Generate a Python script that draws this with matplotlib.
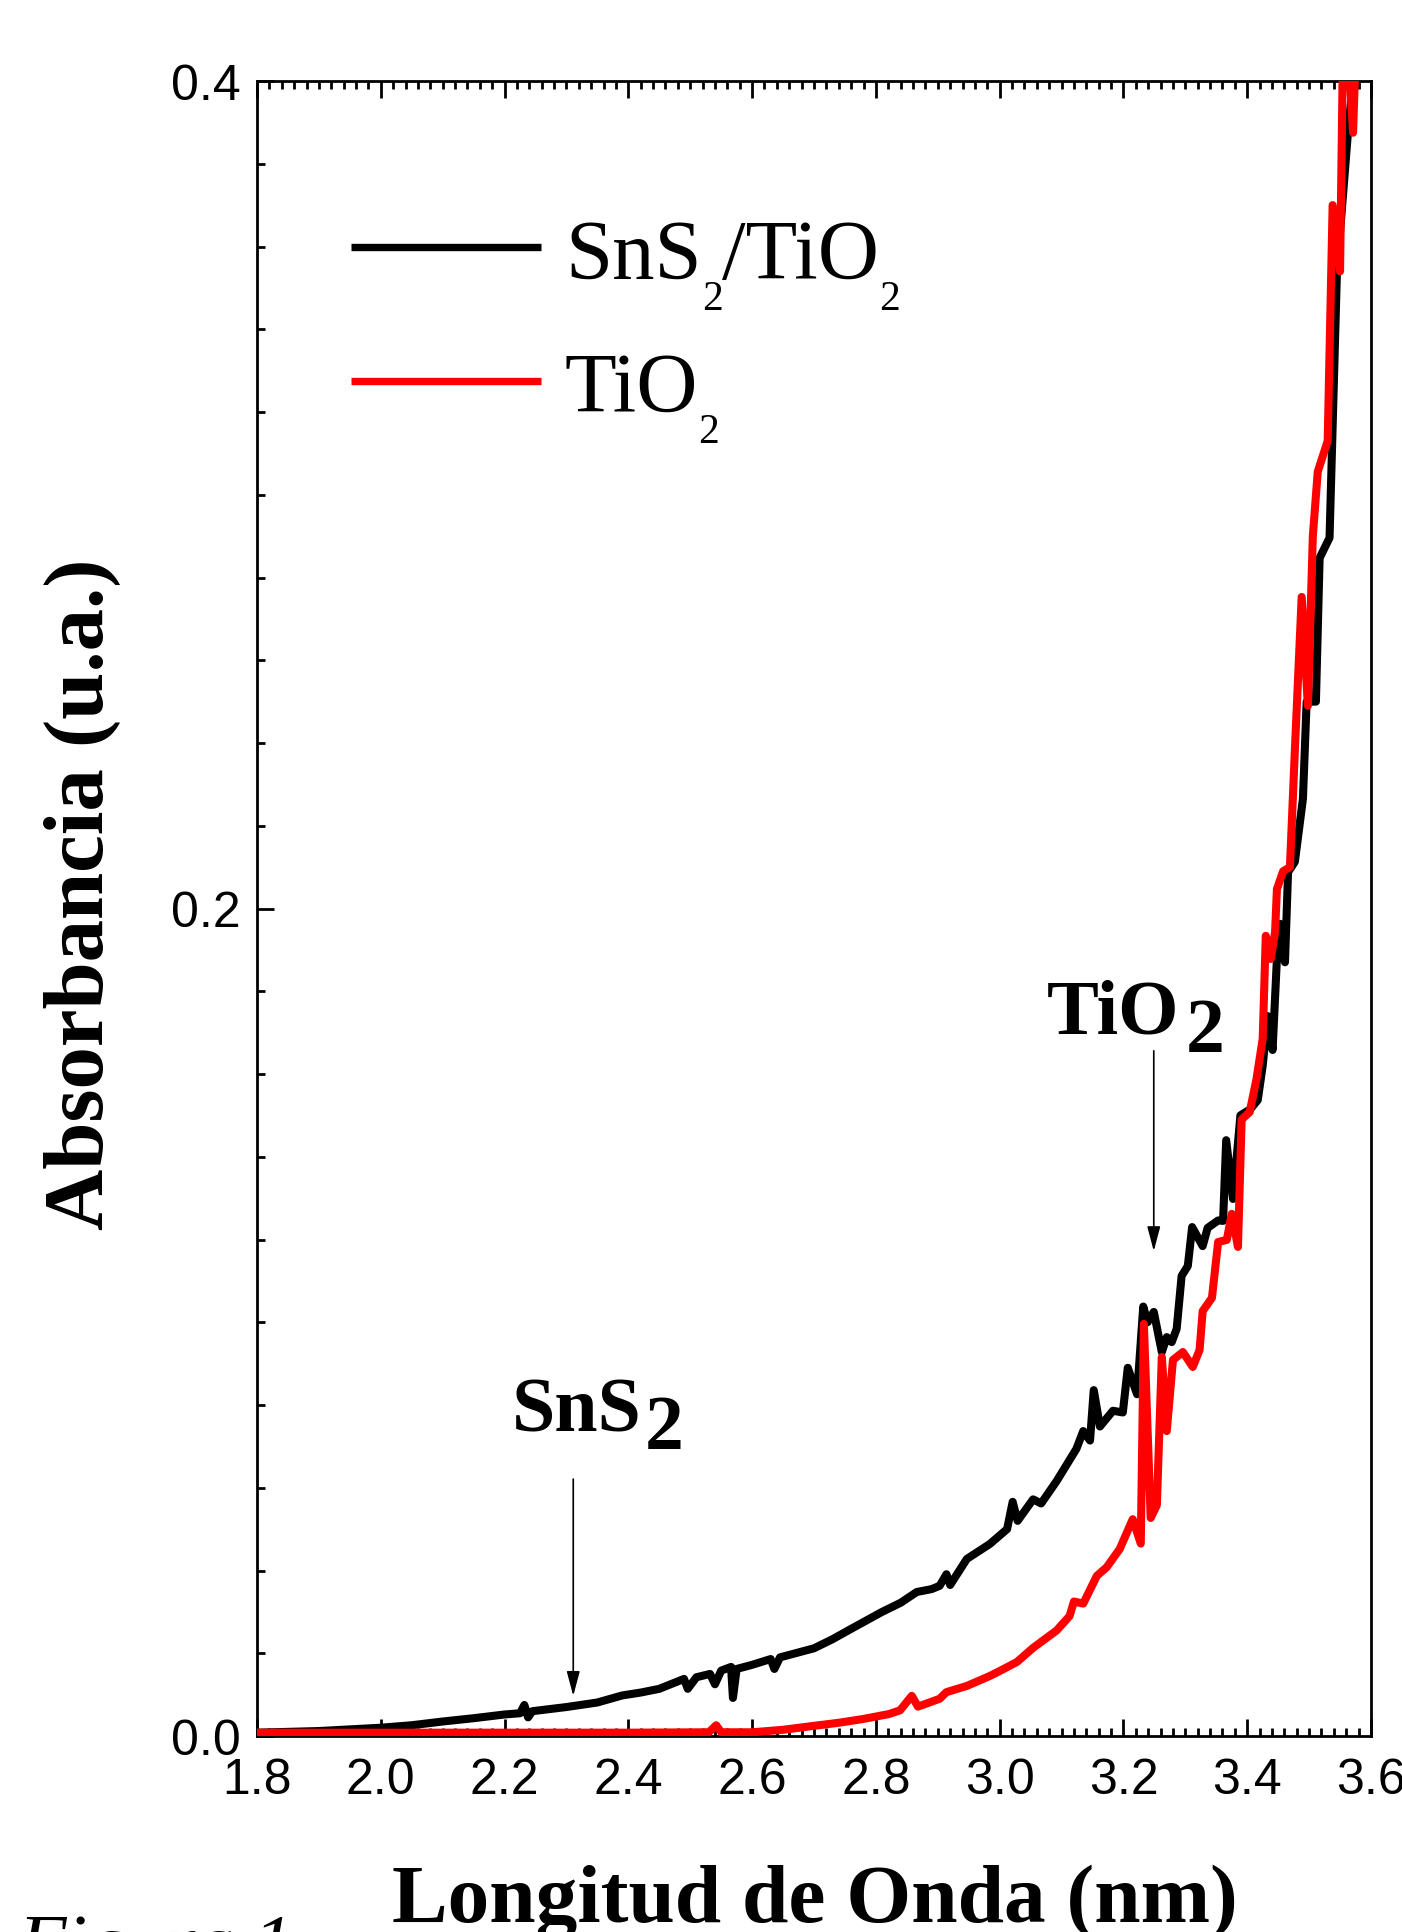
import matplotlib
matplotlib.use("Agg")
import matplotlib.pyplot as plt
from matplotlib.ticker import MultipleLocator, FormatStrFormatter
from matplotlib.lines import Line2D

# ---------------- data ----------------
sns2_tio2_x = [1.80, 1.90, 2.00, 2.05, 2.10, 2.15, 2.20, 2.225, 2.232, 2.238, 2.245,
               2.30, 2.35, 2.39, 2.42, 2.45, 2.49, 2.496, 2.51, 2.532, 2.54, 2.55,
               2.566, 2.569, 2.575, 2.60, 2.630, 2.636, 2.645, 2.70, 2.73, 2.76, 2.81,
               2.84, 2.866, 2.89, 2.903, 2.914, 2.92, 2.947, 2.984, 3.012, 3.021, 3.029, 3.054,
               3.067, 3.092, 3.124, 3.135, 3.146, 3.152, 3.162, 3.183, 3.199, 3.207,
               3.222, 3.232, 3.239, 3.249, 3.262, 3.270, 3.278, 3.286, 3.294, 3.304,
               3.311, 3.328, 3.336, 3.353, 3.361, 3.366, 3.377, 3.389, 3.405, 3.417,
               3.425, 3.433, 3.441, 3.448, 3.453, 3.461, 3.466, 3.477, 3.490, 3.496,
               3.511, 3.517, 3.533, 3.545, 3.563, 3.571, 3.578]
sns2_tio2_y = [0.0008, 0.0012, 0.0020, 0.0026, 0.0035, 0.0043, 0.0052, 0.0055, 0.0075, 0.0045, 0.0060,
               0.0070, 0.0081, 0.0098, 0.0105, 0.0114, 0.0138, 0.0114, 0.0142, 0.0150, 0.0125, 0.0158,
               0.0167, 0.0092, 0.0162, 0.0172, 0.0186, 0.0162, 0.0190, 0.0212, 0.0234, 0.0259, 0.0300,
               0.0322, 0.0348, 0.0355, 0.0363, 0.0391, 0.0365, 0.0428, 0.0464, 0.0500, 0.0566, 0.0520, 0.0572,
               0.0562, 0.0616, 0.0694, 0.0737, 0.0714, 0.0836, 0.0748, 0.0786, 0.0782, 0.0890,
               0.0826, 0.1038, 0.1000, 0.1025, 0.0928, 0.0964, 0.0952, 0.0984, 0.1112, 0.1136,
               0.1230, 0.1184, 0.1228, 0.1246, 0.1245, 0.1440, 0.1298, 0.1500, 0.1515, 0.1537,
               0.1620, 0.1740, 0.1658, 0.1880, 0.1963, 0.1870, 0.2088, 0.2113, 0.2265, 0.2500,
               0.2500, 0.2847, 0.2896, 0.3540, 0.3880, 0.4000, 0.4200]

tio2_x = [1.80, 2.00, 2.20, 2.40, 2.53, 2.542, 2.55, 2.60, 2.65, 2.697, 2.74, 2.779,
          2.821, 2.839, 2.858, 2.868, 2.903, 2.914, 2.947, 2.984, 3.000, 3.028, 3.054,
          3.092, 3.113, 3.120, 3.135, 3.157, 3.173, 3.194, 3.215, 3.228, 3.233, 3.244,
          3.254, 3.262, 3.270, 3.280, 3.296, 3.312, 3.323, 3.328, 3.343, 3.353, 3.367,
          3.375, 3.385, 3.391, 3.404, 3.415, 3.425, 3.430, 3.438, 3.445, 3.448, 3.458,
          3.469, 3.477, 3.488, 3.498, 3.506, 3.514, 3.530, 3.538, 3.550, 3.554, 3.562,
          3.571, 3.576]
tio2_y = [0.0008, 0.0008, 0.0008, 0.0008, 0.0009, 0.0026, 0.0009, 0.0009, 0.0015, 0.0024, 0.0032, 0.0041,
          0.0053, 0.0062, 0.0097, 0.0071, 0.0090, 0.0106, 0.0121, 0.0145, 0.0157, 0.0179, 0.0213,
          0.0255, 0.0290, 0.0325, 0.0320, 0.0387, 0.0408, 0.0452, 0.0524, 0.0465, 0.0996, 0.0527,
          0.0558, 0.0916, 0.0737, 0.0909, 0.0928, 0.0892, 0.0933, 0.1027, 0.1059, 0.1194, 0.1199,
          0.1262, 0.1182, 0.1490, 0.1508, 0.1588, 0.1685, 0.1934, 0.1878, 0.1943, 0.2047, 0.2090,
          0.2100, 0.2383, 0.2753, 0.2490, 0.2900, 0.3056, 0.3130, 0.3700, 0.3540, 0.4000, 0.4100,
          0.3875, 0.4100]

series_names = ["SnS2/TiO2", "TiO2"]
series_colors = ["#000000", "#ff0000"]
x_ticks = [1.8, 2.0, 2.2, 2.4, 2.6, 2.8, 3.0, 3.2, 3.4, 3.6]
y_ticks = [0.0, 0.2, 0.4]

# annotation targets (data coordinates)
tio2_arrow = (3.249, 0.1656, 0.1172)   # x, y_start, y_tip
sns2_arrow = (2.311, 0.0621, 0.0097)

# ---------------- figure ----------------
W, H = 1402, 1933
fig = plt.figure(figsize=(W / 100, H / 100), dpi=100)
ax = fig.add_axes([257 / W, (H - 1737) / H, (1371 - 257) / W, (1737 - 82) / H])

serif = "Liberation Serif"
sans = "Liberation Sans"

ax.plot(sns2_tio2_x, sns2_tio2_y, color=series_colors[0], lw=5.8,
        solid_joinstyle="round", solid_capstyle="round", zorder=3)
ax.plot(tio2_x, tio2_y, color=series_colors[1], lw=5.8,
        solid_joinstyle="round", solid_capstyle="round", zorder=4)

ax.set_xlim(1.8, 3.6)
ax.set_ylim(0.0, 0.4)
ax.set_xticks(x_ticks)
ax.set_yticks(y_ticks)
ax.xaxis.set_minor_locator(MultipleLocator(0.02))
ax.yaxis.set_minor_locator(MultipleLocator(0.02))
ax.xaxis.set_major_formatter(FormatStrFormatter("%.1f"))
ax.yaxis.set_major_formatter(FormatStrFormatter("%.1f"))

for s in ax.spines.values():
    s.set_linewidth(2.0)

ax.tick_params(which="both", direction="in", top=True, right=False,
               bottom=True, left=True, width=2.0)
ax.tick_params(which="major", length=12)
ax.tick_params(which="minor", length=5.5)
ax.tick_params(axis="x", which="major", pad=15, labelsize=36)
ax.tick_params(axis="y", which="major", pad=12, labelsize=36)
for lab in ax.get_xticklabels() + ax.get_yticklabels():
    lab.set_fontfamily(sans)

# axis titles
fig.text(815 / W, (H - 1922) / H, "Longitud de Onda (nm)", ha="center",
         va="baseline", fontsize=60, fontweight="bold", family=serif)
fig.text(103 / W, (H - 894) / H, "Absorbancia (u.a.)", rotation=90,
         rotation_mode="anchor", ha="center", va="baseline", fontsize=61,
         fontweight="bold", family=serif)

# cut caption at bottom-left
fig.text(18 / W, (H - 1968) / H, "Figura 1", ha="left", va="baseline",
         fontsize=56, style="italic", family=serif)

# ---------------- legend (hand-drawn for the lowered subscripts) ----------------
for ypx, col in [(248, series_colors[0]), (382, series_colors[1])]:
    fig.add_artist(Line2D([351 / W, 541 / W], [(H - ypx) / H, (H - ypx) / H],
                          transform=fig.transFigure, color=col, lw=5.3,
                          solid_capstyle="butt"))


def chem_label(x_px, base_px, parts, size, sub_size, sub_drop, weight, gap=0):
    """parts: list of (text, is_sub)."""
    prev = None
    for txt, is_sub in parts:
        fs = sub_size if is_sub else size
        ypx = H - (base_px + (sub_drop if is_sub else 0))
        if prev is None:
            prev = fig.text(x_px / W, ypx / H, txt, ha="left", va="baseline",
                            fontsize=fs, family=serif, fontweight=weight)
        else:
            prev = ax.annotate(txt, xy=(1, ypx), xycoords=(prev, "figure pixels"),
                               xytext=(gap if is_sub else 0, 0),
                               textcoords="offset pixels",
                               ha="left", va="baseline", fontsize=fs,
                               family=serif, fontweight=weight,
                               annotation_clip=False)
    return prev


chem_label(565, 279, [("SnS", False), ("2", True), ("/TiO", False), ("2", True)],
           61, 30, 31, "normal")
chem_label(565, 412, [("TiO", False), ("2", True)], 61, 30, 31, "normal")

# ---------------- annotations ----------------
chem_label(1047, 1034, [("TiO", False), ("2", True)], 56, 56, 18, "bold", gap=6)
chem_label(512, 1432, [("SnS", False), ("2", True)], 56, 56, 17, "bold", gap=3)

arrow_style = dict(arrowstyle="-|>,head_length=1.5,head_width=0.4", lw=1.2,
                   color="black", shrinkA=0, shrinkB=0, mutation_scale=10)
for xa, ys, yt in [tio2_arrow, sns2_arrow]:
    ax.annotate("", xy=(xa, yt), xytext=(xa, ys), arrowprops=arrow_style)

fig.savefig("out.png", dpi=100)
